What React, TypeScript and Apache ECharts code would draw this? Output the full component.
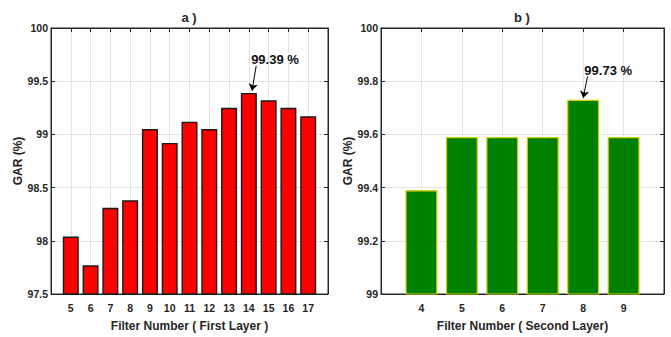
import React, { useEffect, useRef } from "react";
import * as echarts from "echarts";

// GAR per filter count, first convolution layer
const firstLayerFilters = [5, 6, 7, 8, 9, 10, 11, 12, 13, 14, 15, 16, 17];
const firstLayerGAR = [98.04, 97.77, 98.31, 98.38, 99.05, 98.92, 99.12, 99.05, 99.25, 99.39, 99.32, 99.25, 99.17];

// GAR per filter count, second convolution layer
const secondLayerFilters = [4, 5, 6, 7, 8, 9];
const secondLayerGAR = [99.39, 99.59, 99.59, 99.59, 99.73, 99.59];

const panelTitles = ["a )", "b )"];
const xNames = ["Filter Number ( First Layer )", "Filter Number ( Second Layer)"];
const yName = "GAR (%)";

const FONT = "'Liberation Sans', Arial, Helvetica, sans-serif";
const INK = "#262626";
const GRID_LINE = "#e3e3e3";

function peakOf(xs: number[], ys: number[]) {
  let i = 0;
  ys.forEach((v, k) => {
    if (v > ys[i]) i = k;
  });
  return { x: xs[i], y: ys[i] };
}

function xAxes(min: number, max: number, gridIndex: number, name: string) {
  const bottom = {
    type: "value",
    gridIndex,
    min,
    max,
    interval: 1,
    name,
    nameLocation: "middle",
    nameGap: 26,
    nameTextStyle: { fontFamily: FONT, fontWeight: "bold", fontSize: 12, color: INK },
    axisLine: { show: true, lineStyle: { color: INK, width: 1 } },
    axisTick: { show: true, inside: true, length: 4, lineStyle: { color: INK } },
    axisLabel: {
      show: true,
      margin: 8,
      fontFamily: FONT,
      fontWeight: "bold",
      fontSize: 10.5,
      color: INK,
      formatter: (v: number) => (v === min || v === max ? "" : String(v)),
    },
    splitLine: { show: true, lineStyle: { color: GRID_LINE, width: 1 } },
  };
  const top = {
    type: "value",
    gridIndex,
    position: "top",
    min,
    max,
    interval: 1,
    axisLine: { show: true, lineStyle: { color: INK, width: 1 } },
    axisTick: { show: true, inside: true, length: 4, lineStyle: { color: INK } },
    axisLabel: { show: false },
    splitLine: { show: false },
  };
  return [bottom, top];
}

function yAxes(min: number, max: number, interval: number, gridIndex: number) {
  const left = {
    type: "value",
    gridIndex,
    min,
    max,
    interval,
    name: yName,
    nameLocation: "middle",
    nameRotate: 90,
    nameGap: 25,
    nameTextStyle: { fontFamily: FONT, fontWeight: "bold", fontSize: 12, color: INK },
    axisLine: { show: true, lineStyle: { color: INK, width: 1 } },
    axisTick: { show: true, inside: true, length: 4, lineStyle: { color: INK } },
    axisLabel: {
      show: true,
      margin: 3,
      fontFamily: FONT,
      fontWeight: "bold",
      fontSize: 10.5,
      color: INK,
      formatter: (v: number) => String(Math.round(v * 10) / 10),
    },
    splitLine: { show: true, lineStyle: { color: GRID_LINE, width: 1 } },
  };
  const right = {
    type: "value",
    gridIndex,
    position: "right",
    min,
    max,
    interval,
    axisLine: { show: true, lineStyle: { color: INK, width: 1 } },
    axisTick: { show: true, inside: true, length: 4, lineStyle: { color: INK } },
    axisLabel: { show: false },
    splitLine: { show: false },
  };
  return [left, right];
}

function annotation(peak: { x: number; y: number }, tail: [number, number], tip: [number, number], text: [number, number]) {
  return {
    markLine: {
      silent: true,
      symbol: ["none", "arrow"],
      symbolSize: 7,
      label: { show: false },
      lineStyle: { color: "#000", width: 1, type: "solid" },
      data: [
        [
          { coord: [peak.x + tail[0], peak.y + tail[1]] },
          { coord: [peak.x + tip[0], peak.y + tip[1]] },
        ],
      ],
    },
    markPoint: {
      silent: true,
      symbol: "circle",
      symbolSize: 1,
      itemStyle: { color: "rgba(0,0,0,0)" },
      data: [
        {
          coord: [peak.x + text[0], peak.y + text[1]],
          label: {
            show: true,
            position: "inside",
            formatter: `${peak.y.toFixed(2)} %`,
            fontFamily: FONT,
            fontWeight: "bold",
            fontSize: 13,
            color: "#111",
          },
        },
      ],
    },
  };
}

export default function App() {
  const ref = useRef<HTMLDivElement>(null);

  useEffect(() => {
    if (!ref.current) return;
    const chart = echarts.init(ref.current, undefined, { renderer: "svg" });

    const peakA = peakOf(firstLayerFilters, firstLayerGAR);
    const peakB = peakOf(secondLayerFilters, secondLayerGAR);

    const option = {
      animation: false,
      backgroundColor: "#fff",
      grid: [
        { left: 51, top: 28, width: 277, height: 270, show: true, borderColor: INK, borderWidth: 1, backgroundColor: "#fff" },
        { left: 381, top: 28, width: 283, height: 270, show: true, borderColor: INK, borderWidth: 1, backgroundColor: "#fff" },
      ],
      graphic: [
        {
          type: "text",
          x: 189,
          y: 17,
          style: { text: panelTitles[0], fontFamily: FONT, fontWeight: "bold", fontSize: 13, fill: INK, textAlign: "center", textVerticalAlign: "middle" },
        },
        {
          type: "text",
          x: 522,
          y: 17,
          style: { text: panelTitles[1], fontFamily: FONT, fontWeight: "bold", fontSize: 13, fill: INK, textAlign: "center", textVerticalAlign: "middle" },
        },
      ],
      xAxis: [...xAxes(4, 18, 0, xNames[0]), ...xAxes(3, 10, 1, xNames[1])],
      yAxis: [...yAxes(97.5, 100, 0.5, 0), ...yAxes(99, 100, 0.2, 1)],
      series: [
        {
          type: "bar",
          xAxisIndex: 0,
          yAxisIndex: 0,
          barWidth: 16,
          clip: true,
          itemStyle: { color: "#ff0000", borderColor: "#1a1a1a", borderWidth: 1.4 },
          data: firstLayerFilters.map((f, i) => [f, firstLayerGAR[i]]),
          ...annotation(peakA, [0.37, 0.254], [0.16, 0.02], [1.32, 0.31]),
        },
        {
          type: "bar",
          xAxisIndex: 2,
          yAxisIndex: 2,
          barWidth: 32,
          clip: true,
          itemStyle: { color: "#008000", borderColor: "#d2d200", borderWidth: 1.2 },
          data: secondLayerFilters.map((f, i) => [f, secondLayerGAR[i]]),
          ...annotation(peakB, [0.11, 0.088], [0.0, 0.007], [0.62, 0.112]),
        },
      ],
    };

    chart.setOption(option as any);
    return () => chart.dispose();
  }, []);

  return (
    <div
      ref={ref}
      style={{ position: "fixed", left: 0, top: 0, width: 671, height: 337, background: "#fff" }}
    />
  );
}
